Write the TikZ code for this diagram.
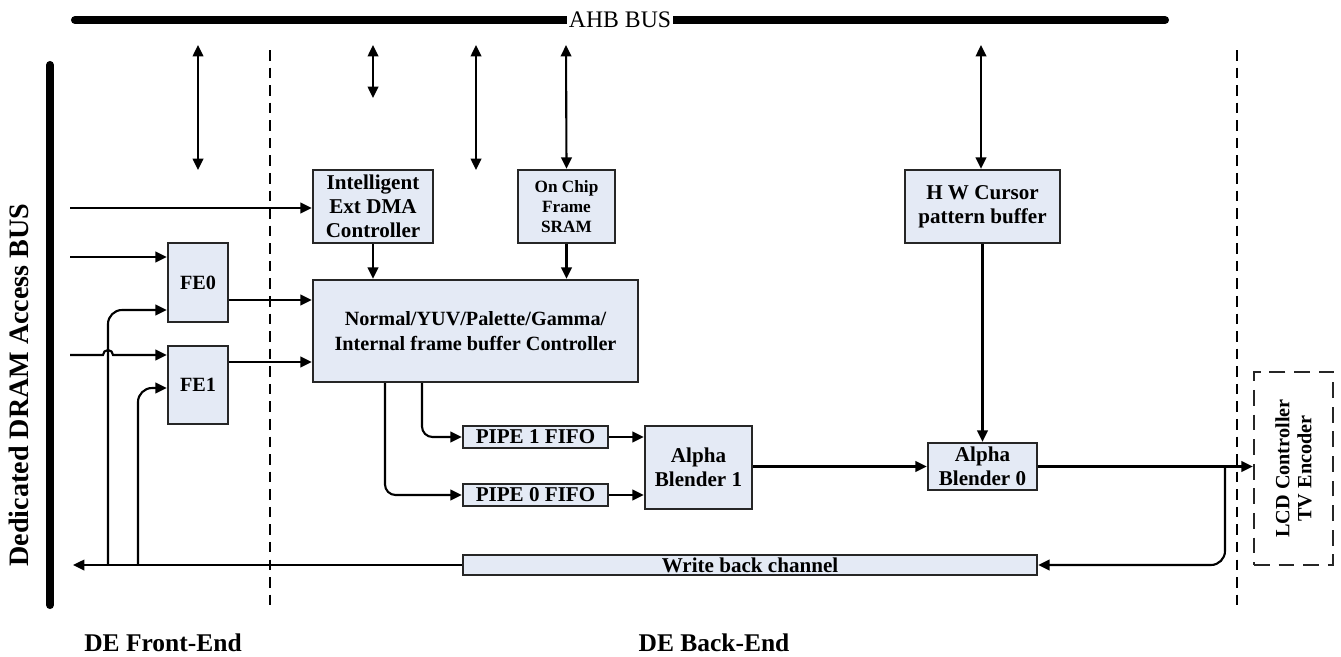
\documentclass[tikz,border=0pt]{standalone}
\usepackage{fontspec}
\setmainfont{Liberation Serif}
\usetikzlibrary{arrows.meta}
\definecolor{boxfill}{RGB}{228,234,245}
\tikzset{
  blk/.style={draw=black!85, line width=1.3pt, fill=boxfill, inner sep=0pt, font=\bfseries\fontsize{12pt}{13.5pt}\selectfont, align=center},
  conn/.style={line width=1.2pt, -{Triangle[length=6.5pt,width=6pt]}},
  dconn/.style={line width=1.2pt, {Triangle[length=6.5pt,width=6pt]}-{Triangle[length=6.5pt,width=6pt]}},
  bus/.style={line width=4.6pt, line cap=round},
  sep/.style={line width=0.6pt, dash pattern=on 6pt off 4pt},
  seclbl/.style={font=\bfseries\fontsize{14.5pt}{16pt}\selectfont},
}
\begin{document}
\begin{tikzpicture}[x=0.02cm,y=-0.02cm]
\useasboundingbox (0,0) rectangle (1341,656);
% buses
\coordinate (ahbL) at (75,20);
\coordinate (ahbR) at (1165,20);
\draw[bus] (ahbL) -- (ahbR);
\node[fill=white, inner sep=1pt, font=\fontsize{13.5pt}{15pt}\selectfont] (ahb) at (620,20) {AHB BUS};
\coordinate (dramT) at (50,65);
\coordinate (dramB) at (50,605);
\draw[bus] (dramT) -- (dramB);
\node[rotate=90, font=\bfseries\fontsize{16pt}{18pt}\selectfont] (dramlbl) at (19,385) {Dedicated DRAM Access BUS};
% separators
\coordinate (s1t) at (270,50); \coordinate (s1b) at (270,605);
\coordinate (s2t) at (1237,50); \coordinate (s2b) at (1237,605);
\draw[sep] (s1t) -- (s1b);
\draw[sep] (s2t) -- (s2b);
% boxes
\node[blk, minimum width=120*0.02cm, minimum height=73*0.02cm] (dma) at (373,206.5) {Intelligent\\Ext DMA\\Controller};
\node[blk, minimum width=97*0.02cm, minimum height=73*0.02cm, font=\bfseries\fontsize{9.8pt}{11.3pt}\selectfont] (sram) at (566.5,206.5) {On Chip\\Frame\\SRAM};
\node[blk, minimum width=155*0.02cm, minimum height=73*0.02cm] (hwc) at (982.5,206.5) {H W Cursor\\pattern buffer};
\node[blk, minimum width=325*0.02cm, minimum height=102*0.02cm, font=\bfseries\fontsize{11.5pt}{14pt}\selectfont] (nrm) at (475.5,331) {Normal/YUV/Palette/Gamma/\\Internal frame buffer Controller};
\node[blk, minimum width=60*0.02cm, minimum height=79*0.02cm, font=\bfseries\fontsize{11.5pt}{13pt}\selectfont] (fe0) at (198,282.5) {FE0};
\node[blk, minimum width=60*0.02cm, minimum height=78*0.02cm, font=\bfseries\fontsize{11.5pt}{13pt}\selectfont] (fe1) at (198,385) {FE1};
\node[blk, minimum width=145*0.02cm, minimum height=22*0.02cm] (p1) at (535.5,437) {PIPE 1 FIFO};
\node[blk, minimum width=145*0.02cm, minimum height=22*0.02cm] (p0) at (535.5,495) {PIPE 0 FIFO};
\node[blk, minimum width=107*0.02cm, minimum height=83*0.02cm] (ab1) at (698.5,467.5) {Alpha\\Blender 1};
\node[blk, minimum width=109*0.02cm, minimum height=47*0.02cm] (ab0) at (982.5,466.5) {Alpha\\Blender 0};
\node[blk, minimum width=574*0.02cm, minimum height=20*0.02cm] (wb) at (750,565) {Write back channel};
\node[draw=black!85, line width=1.3pt, dash pattern=on 9pt off 5pt, minimum width=79*0.02cm, minimum height=193*0.02cm] (lcd) at (1293.5,468.5) {};
\node[rotate=90, align=center, font=\bfseries\fontsize{11.5pt}{12.5pt}\selectfont] (lcdt) at (lcd.center) {LCD Controller\\TV Encoder};
% AHB drops
\coordinate (a1t) at (198,45); \coordinate (a1b) at (198,170);
\coordinate (a2t) at (373,45); \coordinate (a2b) at (373,98);
\coordinate (a3t) at (476,45); \coordinate (a3b) at (476,170);
\coordinate (a4t) at (566,45);
\coordinate (a5t) at (981,45);
\draw[dconn] (a1t) -- (a1b);
\draw[dconn] (a2t) -- (a2b);
\draw[dconn] (a3t) -- (a3b);
\draw[dconn] (a4t) -- (sram.north);
\draw[dconn] (a5t) -- (hwc.north -| a5t);
% inputs from DRAM bus
\coordinate (in1) at (70,208);
\coordinate (in2) at (70,257);
\coordinate (in3) at (70,355);
\draw[conn] (in1) -- (dma.west |- in1);
\draw[conn] (in2) -- (fe0.west |- in2);
\draw[conn] (in3) -- (103,355) arc (180:360:5) -- (fe1.west |- in3);
% FE to normal
\draw[conn] (fe0.east |- 0,300) -- (nrm.west |- 0,300);
\draw[conn] (fe1.east |- 0,362) -- (nrm.west |- 0,362);
\draw[conn] (dma.south) -- (nrm.north -| dma.south);
\draw[conn] (sram.south) -- (nrm.north -| sram.south);
% normal to pipes
\draw[conn, rounded corners=6pt] (nrm.south -| 422,0) -- (422,437) -- (p1.west);
\draw[conn, rounded corners=6pt] (nrm.south -| 385,0) -- (385,495) -- (p0.west);
\draw[conn] (p1.east) -- (ab1.west |- p1.east);
\draw[conn] (p0.east) -- (ab1.west |- p0.east);
\draw[conn] (ab1.east |- ab0.west) -- (ab0.west);
\draw[conn] (hwc.south -| ab0.north) -- (ab0.north);
\draw[conn] (ab0.east) -- (lcd.west |- ab0.east);
% write back
\coordinate (br) at (1225,466);
\draw[conn, rounded corners=8pt] (br) -- (1225,565) -- (wb.east);
\coordinate (wbL) at (73,565);
\draw[conn] (wb.west) -- (wbL);
\coordinate (v0) at (108,565);
\coordinate (v1) at (138,565);
\draw[conn, rounded corners=8pt] (v0) -- (108,310) -- (fe0.west |- 0,310);
\draw[conn, rounded corners=8pt] (v1) -- (138,388) -- (fe1.west |- 0,388);
% section labels
\node[seclbl] (fl) at (163,643) {DE Front-End};
\node[seclbl] (bl) at (714,643) {DE Back-End};
\end{tikzpicture}
\end{document}
